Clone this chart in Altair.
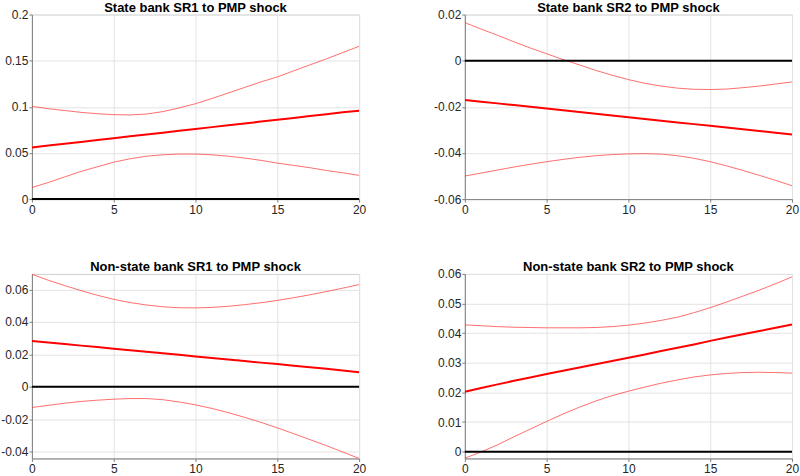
import altair as alt
import pandas as pd

steps = list(range(21))

titles = [
    "State bank SR1 to PMP shock",
    "State bank SR2 to PMP shock",
    "Non-state bank SR1 to PMP shock",
    "Non-state bank SR2 to PMP shock",
]

# Panel 1: State bank SR1
p1_irf = [0.056, 0.058, 0.060, 0.062, 0.064, 0.066, 0.068, 0.070, 0.072, 0.074, 0.076,
          0.078, 0.080, 0.082, 0.084, 0.086, 0.088, 0.090, 0.092, 0.094, 0.0958]
p1_hi = [0.1005, 0.098, 0.096, 0.094, 0.0925, 0.0915, 0.0912, 0.0922, 0.0948, 0.0988, 0.1034,
         0.109, 0.115, 0.121, 0.127, 0.1324, 0.139, 0.1455, 0.152, 0.1588, 0.1656]
p1_lo = [0.0125, 0.018, 0.024, 0.030, 0.035, 0.040, 0.0437, 0.0465, 0.048, 0.0488, 0.0488,
         0.048, 0.0465, 0.0445, 0.042, 0.039, 0.0365, 0.034, 0.031, 0.0285, 0.0257]

# Panel 2: State bank SR2
p2_irf = [-0.0170, -0.01775, -0.0185, -0.01925, -0.0200, -0.02075, -0.0215, -0.02225, -0.0230,
          -0.02375, -0.0245, -0.02525, -0.0260, -0.02675, -0.0275, -0.02825, -0.0290, -0.02975,
          -0.0305, -0.03125, -0.0320]
p2_hi = [0.0165, 0.0137, 0.0110, 0.0082, 0.0055, 0.0030, 0.0005, -0.0018, -0.0042, -0.0063,
         -0.0082, -0.0098, -0.0110, -0.0119, -0.0124, -0.0125, -0.0123, -0.0117, -0.0110,
         -0.0101, -0.0092]
p2_lo = [-0.0500, -0.0487, -0.0474, -0.0461, -0.0449, -0.0438, -0.0428, -0.0419, -0.0412,
         -0.0407, -0.0404, -0.0403, -0.0405, -0.0412, -0.0423, -0.0438, -0.0456, -0.0476,
         -0.0497, -0.0519, -0.0542]

# Panel 3: Non-state bank SR1
p3_irf = [0.0283, 0.0273, 0.0264, 0.0254, 0.0245, 0.0235, 0.0226, 0.0216, 0.0207, 0.0197,
          0.0187, 0.0178, 0.0168, 0.0159, 0.0149, 0.0140, 0.0130, 0.0121, 0.0111, 0.0101, 0.0090]
p3_hi = [0.0695, 0.0658, 0.0625, 0.0594, 0.0565, 0.0540, 0.0520, 0.0505, 0.0494, 0.0488,
         0.0487, 0.0490, 0.0497, 0.0507, 0.0519, 0.0533, 0.0550, 0.0568, 0.0588, 0.0609, 0.0631]
p3_lo = [-0.0128, -0.0115, -0.0102, -0.0091, -0.0083, -0.0077, -0.0073, -0.0073, -0.0080,
         -0.0094, -0.0112, -0.0134, -0.0160, -0.0189, -0.0220, -0.0254, -0.0290, -0.0327,
         -0.0364, -0.0403, -0.0443]

# Panel 4: Non-state bank SR2
p4_irf = [0.0202, 0.0215, 0.0227, 0.0239, 0.0250, 0.0262, 0.0273, 0.0284, 0.0295, 0.0306,
          0.0317, 0.0328, 0.0340, 0.0351, 0.0362, 0.0374, 0.0385, 0.0396, 0.0407, 0.0418, 0.0429]
p4_hi = [0.0428, 0.0425, 0.0422, 0.0420, 0.0419, 0.0418, 0.0418, 0.0418, 0.0419, 0.0422,
         0.0427, 0.0434, 0.0443, 0.0454, 0.0469, 0.0486, 0.0505, 0.0525, 0.0545, 0.0567, 0.0590]
p4_lo = [-0.0022, -0.0001, 0.0023, 0.0050, 0.0076, 0.0102, 0.0127, 0.0150, 0.0171, 0.0189,
         0.0204, 0.0218, 0.0231, 0.0242, 0.0252, 0.0259, 0.0264, 0.0267, 0.0268, 0.0267, 0.0265]

y_domains = [[0, 0.2], [-0.06, 0.02], [-0.0443, 0.0697], [-0.0023, 0.06]]
y_ticks = [
    [0, 0.05, 0.1, 0.15, 0.2],
    [-0.06, -0.04, -0.02, 0, 0.02],
    [-0.04, -0.02, 0, 0.02, 0.04, 0.06],
    [0, 0.01, 0.02, 0.03, 0.04, 0.05, 0.06],
]
x_ticks = [0, 5, 10, 15, 20]

panels = [(p1_irf, p1_lo, p1_hi), (p2_irf, p2_lo, p2_hi),
          (p3_irf, p3_lo, p3_hi), (p4_irf, p4_lo, p4_hi)]

W, H = 328, 185


def make_panel(i):
    irf, lo, hi = panels[i]
    df = pd.DataFrame({"step": steps * 3,
                       "value": irf + lo + hi,
                       "series": ["irf"] * 21 + ["lo"] * 21 + ["hi"] * 21})
    xenc = alt.X("step:Q", scale=alt.Scale(domain=[0, 20], nice=False, zero=False),
                 axis=alt.Axis(values=x_ticks, title=None, labelExpr="'' + datum.value",
                               labelOverlap=False))
    yenc = alt.Y("value:Q", scale=alt.Scale(domain=y_domains[i], nice=False, zero=False),
                 axis=alt.Axis(values=y_ticks[i], title=None, labelExpr="'' + datum.value",
                               labelOverlap=False))
    base = alt.Chart(df)
    bands = base.transform_filter(alt.datum.series != "irf").mark_line(
        color="#ff3030", strokeWidth=1, opacity=0.7, clip=True
    ).encode(x=xenc, y=yenc, detail="series:N")
    center = base.transform_filter(alt.datum.series == "irf").mark_line(
        color="#ff0000", strokeWidth=2, clip=True
    ).encode(x=xenc, y=yenc)
    zero = alt.Chart(pd.DataFrame({"value": [0.0]})).mark_rule(
        color="#000000", strokeWidth=2
    ).encode(y=yenc)
    title = alt.Chart(pd.DataFrame({"t": [titles[i]]})).mark_text(
        font="Liberation Sans", fontSize=13, fontWeight="bold", color="#000000",
        baseline="alphabetic", align="center"
    ).encode(text="t:N", x=alt.value(W / 2), y=alt.value(-3))
    return alt.layer(bands, center, zero, title).properties(width=W, height=H)


chart = alt.concat(
    *[make_panel(i) for i in range(4)], columns=2, spacing={"row": 44, "column": 66}
).resolve_scale(y="independent").configure_axis(
    labelFont="Liberation Sans", labelFontSize=12, labelColor="#262626",
    grid=True, gridColor="#e3e3e3", gridWidth=1,
    domainColor="#808080", tickColor="#808080", tickSize=3, labelPadding=1,
).configure_axisX(labelFlush=False, labelPadding=2).configure_view(
    stroke="#cfcfcf"
).properties(padding={"left": 0, "top": 0, "right": 0, "bottom": 0})

chart.save("out.html", embed_options={"renderer": "svg", "actions": False})
